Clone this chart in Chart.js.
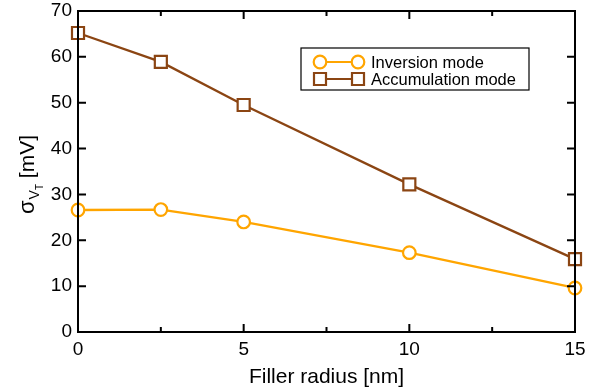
<!DOCTYPE html>
<html><head><meta charset="utf-8">
<script src="https://cdn.jsdelivr.net/npm/chart.js@4/dist/chart.umd.min.js"></script>
<style>html,body{margin:0;padding:0;background:#fff}#wrap{width:602px;height:392px}</style>
</head><body><div id="wrap"><canvas id="c" width="602" height="392"></canvas></div>
<script>
const radius = [0, 2.5, 5, 10, 15];
const inversion = [26.6, 26.7, 24.0, 17.3, 9.6];
const accumulation = [65.2, 58.9, 49.5, 32.2, 15.9];
const seriesNames = ["Inversion mode", "Accumulation mode"];
const xMajorTicks = [0, 5, 10, 15];
const xMinorTicks = [2.5, 7.5, 12.5];
const yMajorTicks = [0, 10, 20, 30, 40, 50, 60, 70];
const xTitle = "Filler radius [nm]";

const FONT = "'Liberation Sans', Arial, sans-serif";
const ORANGE = "#FFA500", BROWN = "#8B4513";

const toPts = (ys) => radius.map((x, i) => ({x, y: ys[i]}));

const framePlugin = {
  id: 'frame',
  afterDraw(chart) {
    const {ctx, chartArea: a, scales: {x, y}} = chart;
    ctx.save();
    ctx.strokeStyle = '#000';
    ctx.lineWidth = 2;
    ctx.strokeRect(a.left, a.top, a.right - a.left, a.bottom - a.top);
    ctx.beginPath();
    xMajorTicks.forEach(v => { const px = x.getPixelForValue(v);
      ctx.moveTo(px, a.bottom); ctx.lineTo(px, a.bottom - 8);
      ctx.moveTo(px, a.top); ctx.lineTo(px, a.top + 8); });
    xMinorTicks.forEach(v => { const px = x.getPixelForValue(v);
      ctx.moveTo(px, a.bottom); ctx.lineTo(px, a.bottom - 5);
      ctx.moveTo(px, a.top); ctx.lineTo(px, a.top + 5); });
    yMajorTicks.forEach(v => { const py = y.getPixelForValue(v);
      ctx.moveTo(a.left, py); ctx.lineTo(a.left + 8, py);
      ctx.moveTo(a.right, py); ctx.lineTo(a.right - 8, py); });
    ctx.stroke();

    // legend
    const lx = 301, ly = 48, lw = 228, lh = 42;
    ctx.lineWidth = 1.2;
    ctx.strokeStyle = '#000';
    ctx.fillStyle = '#fff';
    ctx.fillRect(lx, ly, lw, lh);
    ctx.strokeRect(lx, ly, lw, lh);
    const rows = [{c: ORANGE, s: 'circle', yy: 62}, {c: BROWN, s: 'rect', yy: 79}];
    rows.forEach((r, i) => {
      ctx.strokeStyle = r.c; ctx.lineWidth = 2.2;
      ctx.beginPath(); ctx.moveTo(320, r.yy); ctx.lineTo(358, r.yy); ctx.stroke();
      [320, 358].forEach(px => {
        ctx.fillStyle = '#fff';
        ctx.beginPath();
        if (r.s === 'circle') { ctx.arc(px, r.yy, 6.3, 0, Math.PI * 2); }
        else { ctx.rect(px - 6, r.yy - 6, 12, 12); }
        ctx.fill(); ctx.stroke();
      });
      ctx.fillStyle = '#000';
      ctx.font = '16.5px ' + FONT;
      ctx.textBaseline = 'middle';
      ctx.textAlign = 'left';
      ctx.fillText(seriesNames[i], 371, r.yy + 1);
    });

    // y title
    ctx.translate(34, 214);
    ctx.rotate(-Math.PI / 2);
    ctx.fillStyle = '#000';
    ctx.textBaseline = 'alphabetic';
    ctx.textAlign = 'left';
    let cx = 0;
    ctx.font = '22px ' + FONT; ctx.fillText('σ', cx, 0); cx += ctx.measureText('σ').width + 1;
    ctx.font = '14px ' + FONT; ctx.fillText('V', cx, 5); cx += ctx.measureText('V').width;
    ctx.font = '10px ' + FONT; ctx.fillText('T', cx, 9); cx += ctx.measureText('T').width;
    ctx.font = '21px ' + FONT; ctx.fillText(' [mV]', cx, 0);
    ctx.restore();
  }
};

new Chart(document.getElementById('c'), {
  type: 'line',
  data: {
    datasets: [
      {label: seriesNames[0], data: toPts(inversion), borderColor: ORANGE, backgroundColor: '#fff',
       borderWidth: 2.3, pointStyle: 'circle', pointRadius: 6.3, pointBorderWidth: 2.2, pointBackgroundColor: '#fff', clip: false, tension: 0},
      {label: seriesNames[1], data: toPts(accumulation), borderColor: BROWN, backgroundColor: '#fff',
       borderWidth: 2.3, pointStyle: 'rect', pointRadius: 8.5, pointBorderWidth: 2.2, pointBackgroundColor: '#fff', clip: false, tension: 0}
    ]
  },
  options: {
    responsive: false, animation: false, devicePixelRatio: 1,
    layout: {padding: {left: 0, right: 27, top: 11, bottom: 0}},
    plugins: {legend: {display: false}, tooltip: {enabled: false}},
    scales: {
      x: {type: 'linear', min: 0, max: 15,
          afterBuildTicks: s => { s.ticks = xMajorTicks.map(v => ({value: v})); },
          afterFit: s => { s.height = 60; s.paddingLeft = 0; s.paddingRight = 0; },
          grid: {display: false, drawTicks: false}, border: {display: false},
          ticks: {color: '#000', font: {family: FONT, size: 19}, padding: 6, maxRotation: 0},
          title: {display: true, text: xTitle, color: '#000', font: {family: FONT, size: 21}, padding: {top: 0, bottom: 2}}},
      y: {min: 0, max: 70,
          afterBuildTicks: s => { s.ticks = yMajorTicks.map(v => ({value: v})); },
          afterFit: s => { s.width = 78; s.paddingTop = 0; s.paddingBottom = 0; },
          grid: {display: false, drawTicks: false}, border: {display: false},
          ticks: {color: '#000', font: {family: FONT, size: 19}, padding: 6}}
    }
  },
  plugins: [framePlugin]
});
</script></body></html>
